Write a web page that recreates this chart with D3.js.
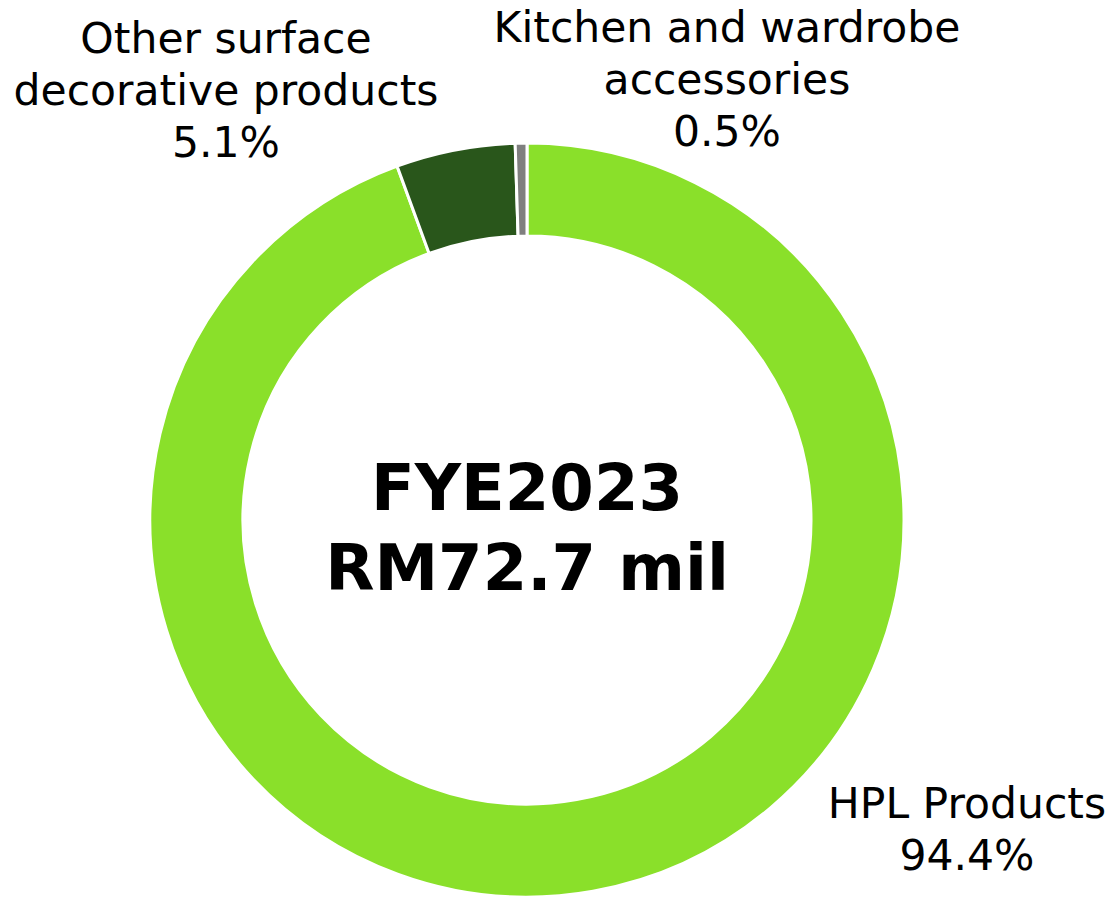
<!DOCTYPE html>
<html>
<head>
<meta charset="utf-8">
<script src="https://cdn.jsdelivr.net/npm/d3@7"></script>
<style>
  html, body { margin: 0; padding: 0; background: #fff; }
  #chart { width: 1114px; height: 899px; }
  text { font-family: "DejaVu Sans", Verdana, sans-serif; fill: #000; }
</style>
</head>
<body>
<div id="chart"></div>
<script>
// Datos
const categories = ['HPL Products', 'Other surface decorative products', 'Kitchen and wardrobe accessories'];
const shares = [94.4, 5.1, 0.5];
const labelLines = [
    ['HPL Products', '94.4%'],
    ['Other surface', 'decorative products', '5.1%'],
    ['Kitchen and wardrobe', 'accessories', '0.5%']
];
const centerLines = ['FYE2023', 'RM72.7 mil'];

// Colores
const COLORS = ['#8AE02A', '#29561B', '#7F7F7F'];

const width = 1114, height = 899;
const cx = 527, cy = 520;
const outerR = 377, innerR = 284;

// posiciones de las etiquetas (centro de la primera línea)
const labelPos = [[967, 818], [226, 53], [727, 42]];

let svg = d3.select('#chart').append('svg')
    .attr('width', width)
    .attr('height', height);

let data = categories.map(function(c, i) { return { name: c, value: shares[i] }; });

let pie = d3.pie()
    .sort(null)
    .value(function(d) { return d.value; });

let arc = d3.arc()
    .innerRadius(innerR)
    .outerRadius(outerR);

let g = svg.append('g').attr('transform', 'translate(' + cx + ',' + cy + ')');

g.selectAll('path')
    .data(pie(data))
    .enter()
    .append('path')
    .attr('d', arc)
    .attr('fill', function(d, i) { return COLORS[i]; })
    .attr('stroke', '#fff')
    .attr('stroke-width', 3);

// etiquetas
labelLines.forEach(function(lines, i) {
    let t = svg.append('text')
        .attr('text-anchor', 'middle')
        .attr('font-size', 42.5);
    lines.forEach(function(l, j) {
        t.append('tspan')
            .attr('x', labelPos[i][0])
            .attr('y', labelPos[i][1] + j * 52)
            .text(l);
    });
});

// texto central
centerLines.forEach(function(l, j) {
    svg.append('text')
        .attr('x', cx)
        .attr('y', cy - 10 + j * 80)
        .attr('text-anchor', 'middle')
        .attr('font-size', 64)
        .attr('font-weight', 'bold')
        .text(l);
});
</script>
</body>
</html>
